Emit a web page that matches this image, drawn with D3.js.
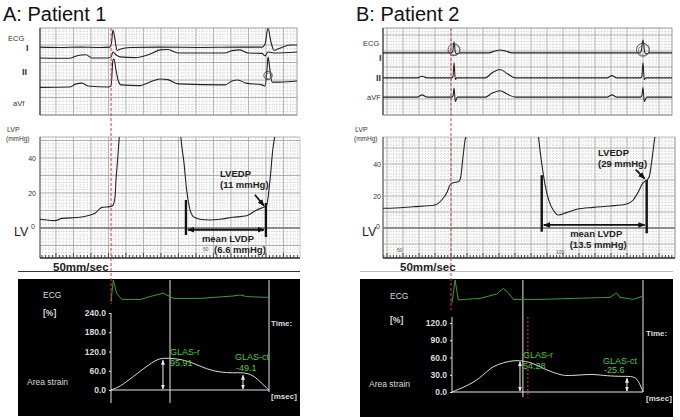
<!DOCTYPE html>
<html><head><meta charset="utf-8">
<script src="https://cdn.jsdelivr.net/npm/d3@7"></script>
<style>body{margin:0;background:#fff}svg{display:block}text{font-family:Arial,"Liberation Sans",sans-serif}</style>
</head><body><svg width="680" height="420"></svg>
<script>
// ================= DATA =================
const panelTitles = ["A: Patient 1", "B: Patient 2"];
const ecgLabelsA = ["ECG", "I", "II", "aVf"];
const ecgLabelsB = ["ECG", "I", "II", "aVF"];
// ECG leads: [time ms, mV relative to lead baseline]
const ecgA1 = [[0,0],[114,-0.01],[229,0],[343,-0.01],[400,0],[409,0.14],[417,0.49],[429,0.2],[440,-0.09],[457,-0.06],[514,-0.01],[686,0],[914,-0.01],[1143,0],[1269,0],[1286,0.09],[1303,0.54],[1320,0.14],[1337,-0.09],[1371,-0.03],[1429,0.06],[1469,0.06]];
const ecgA2 = [[0,0],[171,-0.01],[217,0.07],[263,0.09],[297,0],[389,0],[406,0.03],[417,0.17],[434,0.09],[457,0.03],[543,0.01],[629,0.11],[686,0.23],[731,0.24],[789,0.14],[1057,0.14],[1097,0.21],[1143,0.23],[1189,0.14],[1269,0.13],[1286,0.06],[1303,0.17],[1343,0.14],[1469,0.17]];
const ecgA3 = [[0,-0.01],[171,0],[206,0.09],[240,0.11],[274,0.03],[389,0],[406,0.03],[417,0.77],[423,0.8],[434,0.49],[446,0.2],[463,0.06],[571,0.04],[629,0.14],[686,0.23],[731,0.21],[789,0.09],[1057,0.06],[1097,0.17],[1131,0.2],[1177,0.11],[1269,0.06],[1286,0.03],[1297,0.49],[1303,0.86],[1314,0.49],[1326,0.14],[1371,0.14],[1469,0.17]];
const ecgB1 = [[0,0],[244,0],[425,0],[435,0.03],[444,0.34],[453,0],[465,-0.03],[480,0],[660,0],[700,0.06],[731,0.09],[765,0.06],[806,0],[1400,0],[1600,0],[1612,0.03],[1625,0.4],[1637,0],[1650,-0.03],[1665,0],[1806,0]];
const ecgB2 = [[0,0],[215,0],[244,0.05],[275,0],[430,0],[438,0.05],[444,0.47],[452,-0.05],[462,0],[640,0],[680,0.15],[731,0.26],[780,0.12],[825,0],[1400,0],[1431,0.07],[1460,0],[1610,0],[1618,0.05],[1625,0.47],[1633,-0.05],[1645,0],[1806,0]];
const ecgB3 = [[0,0],[215,0],[244,0.07],[275,0],[430,0],[438,0.05],[444,0.28],[452,-0.14],[465,0],[640,0],[680,0.12],[731,0.2],[780,0.08],[825,0],[1400,0],[1431,0.07],[1460,0],[1610,0],[1618,0.05],[1625,0.3],[1633,-0.14],[1648,0],[1806,0]];
// LV pressure: [time ms, mmHg]
const lvpA1 = [[0,5.0],[86,4.2],[126,5.5],[229,6.1],[286,7.4],[314,8.4],[354,11.8],[400,12.2],[417,13],[429,18],[434,27],[442,37],[453,52],[460,62]];
const lvpA2 = [[798,62],[804,53],[823,37],[838,21.7],[853,12.2],[876,6.5],[914,5.0],[971,4.6],[1029,5.0],[1103,6.1],[1181,7.0],[1238,10.3],[1276,11.8],[1295,13],[1314,27],[1330,44.6],[1343,54],[1350,62]];
const lvpB1 = [[0,12.3],[23,12.3],[189,13.3],[325,14.4],[367,17.5],[402,22.7],[419,26.9],[439,28.3],[471,28.9],[486,32],[498,42.5],[513,55],[523,59],[530,65]];
const lvpB2 = [[965,65],[971,58],[992,40.4],[1013,26.9],[1039,16.5],[1064,11.2],[1096,8.1],[1148,9.6],[1211,11.7],[1314,12.9],[1419,13.75],[1523,15],[1564,17.5],[1596,22.7],[1623,27.9],[1648,30],[1664,32],[1679,41.4],[1694,53],[1702,59],[1708,65]];
const lvpTicks = [0, 20, 40];
const lvedpText = ["(11 mmHg)", "(29 mmHg)"];
const meanLvdpText = ["(6.6 mmHg)", "(13.5 mmHg)"];
const diastoleA = [834, 1291];   // ms, bars
const diastoleB = [992, 1648];
const lvedpValues = [11, 29];
const qrsTimes = [406, 425];     // red dashed line (ms)
// Area strain: [time ms from QRS, %]
const strainA = [[0,0],[51,10],[127,42],[203,74],[260,95],[298,100],[355,98],[403,95],[469,84],[545,65],[621,55],[696,53],[753,55],[810,47],[858,21],[896,2],[900,0]];
const strainB = [[0,0],[132,15],[214,35],[255,45],[317,51],[379,55],[440,54.3],[502,50],[585,38],[667,30],[708,28],[811,30],[873,31],[956,28],[1058,27],[1120,27.5],[1151,21],[1180,0]];
const strainEcgA = [[0,-0.14],[13,0.95],[32,0.29],[61,-0.02],[170,-0.02],[222,0.12],[298,0.29],[336,0.12],[355,0.03],[507,0.03],[695,0.15],[735,0.2],[773,0.12],[887,0.08],[900,0.12]];
const strainEcgB = [[0,-0.21],[19,0.95],[39,-0.05],[70,-0.02],[173,0.03],[276,0.25],[317,0.53],[348,0.31],[379,-0.02],[544,-0.02],[749,0.03],[976,0.08],[1017,0.31],[1037,0.08],[1120,-0.02],[1180,0.15]];
const strainTicksA = [0, 60, 120, 180, 240];
const strainTicksB = [0, 30, 60, 90, 120];
const rrDurations = [900, 1180];
const avcTimes = [336, 438];
const glasNames = ["GLAS-r", "GLAS-ct"];
const glasA = [95.91, -49.1], glasB = [54.28, -25.6];
const glasTimeA = [296, 752], glasTimeB = [420, 1081];

// ================= LAYOUT =================
const panels = [
 { title: panelTitles[0], titleX: 3, labels: ecgLabelsA, leads: [ecgA1, ecgA2, ecgA3], base: [1.94, 1.63, 0.8],
   ecg: {x0:40, x1:297, y0:28, y1:115}, pxPerMs: 0.175, pxPerMv: 35, gridOff: 91,
   labPos: [[8,41,"s"],[26,51,"r"],[22,75,"r"],[13,106,"s"]],
   loops: [[1303, 0.33, 2, 4.2]],
   lvp: {x0:40, x1:300, y0:137, y1:258}, zeroY: 228, pxPerMmHg: 1.75, lvps: [lvpA1, lvpA2],
   lvpLabX: 7, tickX: 36, lvX: 14, zeroX: 31, speedX: 53, rulerLabels: [[203, 251, "50"]],
   diast: diastoleA, barTop: [16, 14.3], barBot: [-4, -5.1], arrowMm: -1, meanOff: [2, 14],
   edpText: [220, 177], edpArrowFrom: [-9, -11], idx: 0,
   sep: {x0:18, x1:300, c:"#333"},
   sb: {x0:18, x1:300, y0:279, y1:416}, ax0: 111, ax1: 269, yZero: 390, yTop: 313, axTop: 313, axBot: 403,
   ecgZero: 299, sLab: {x:43, ecgY:298, pctY:316, areaX:27, areaY:385}, tickLabX: 106,
   strain: strainA, sEcg: strainEcgA, sTicks: strainTicksA, glas: glasA, glasT: glasTimeA,
   glasLab: [[170, 355, 366], [235, 360, 371]], avcTop: 280, avcBot: 403, endBot: 392, timeX: 271,
   redBot: 304, extraRed: null },
 { title: panelTitles[1], titleX: 356, labels: ecgLabelsB, leads: [ecgB1, ecgB2, ecgB3], base: [1.94, 1.16, 0.56],
   ecg: {x0:383, x1:672, y0:28, y1:115}, pxPerMs: 0.16, pxPerMv: 32, gridOff: 25,
   labPos: [[363,46,"s"],[379,61,"r"],[376,81,"r"],[367,100,"s"]],
   loops: [[444, 0.1, 0, 6], [1625, 0.1, 0, 6.5]],
   lvp: {x0:383, x1:675, y0:137, y1:258}, zeroY: 228, pxPerMmHg: 1.6, lvps: [lvpB1, lvpB2],
   lvpLabX: 355, tickX: 381, lvX: 362, zeroX: 376, speedX: 400, rulerLabels: [[397, 252, "50"], [556, 254, "100"]],
   diast: diastoleB, barTop: [33, 30], barBot: [-2.3, -3.3], arrowMm: 1.9, meanOff: [2, 4],
   edpText: [598, 156], edpArrowFrom: [-9, -9], idx: 1,
   sep: {x0:360, x1:673, c:"#bbb"},
   sb: {x0:360, x1:673, y0:279, y1:417}, ax0: 452, ax1: 643, yZero: 392, yTop: 323, axTop: 317, axBot: 393,
   ecgZero: 299, sLab: {x:390, ecgY:299, pctY:323, areaX:369, areaY:387}, tickLabX: 446,
   strain: strainB, sEcg: strainEcgB, sTicks: strainTicksB, glas: glasB, glasT: glasTimeB,
   glasLab: [[523, 358, 369], [603, 364, 373]], avcTop: 280, avcBot: 397, endBot: 392, timeX: 646,
   redBot: 310, extraRed: 469 }
];

// ================= DRAW =================
const fmtLoc = d3.formatLocale({decimal: ".", thousands: ",", grouping: [3], currency: ["", ""], minus: "-"});
const svg = d3.select("svg");
const defs = svg.append("defs");
function mk(id, color, w) {
  defs.append("marker").attr("id", id).attr("viewBox", "0 0 10 10").attr("refX", 9).attr("refY", 5)
    .attr("markerWidth", w).attr("markerHeight", w).attr("orient", "auto-start-reverse")
    .attr("markerUnits", "userSpaceOnUse")
    .append("path").attr("d", "M0,1L10,5L0,9z").attr("fill", color);
}
mk("hk", "#111", 7); mk("hw", "#eee", 5);

function grid(g, xs, ys, xOff, xStep, yOff, yStep) {
  const [xa, xb] = xs.domain(), [ya, yb] = ys.domain();
  const xv = [], yv = [];
  for (let i = Math.ceil((xa - xOff) / xStep); xOff + i * xStep <= xb + 1e-9; i++) xv.push({v: xOff + i * xStep, m: i % 5 === 0});
  for (let i = Math.ceil((ya - yOff) / yStep); yOff + i * yStep <= yb + 1e-9; i++) yv.push({v: yOff + i * yStep, m: i % 5 === 0});
  const [r0, r1] = ys.range(), [c0, c1] = xs.range();
  const st = (sel) => sel.attr("stroke", d => d.m ? "#9c9c9c" : "#bdbdbd").attr("stroke-width", d => d.m ? 0.8 : 0.7)
    .attr("stroke-dasharray", d => d.m ? null : "1,1.6");
  st(g.append("g").selectAll("line").data(xv.filter(d => !d.m)).join("line")
    .attr("x1", d => xs(d.v)).attr("x2", d => xs(d.v)).attr("y1", r0).attr("y2", r1));
  st(g.append("g").selectAll("line").data(yv.filter(d => !d.m)).join("line")
    .attr("y1", d => ys(d.v)).attr("y2", d => ys(d.v)).attr("x1", c0).attr("x2", c1));
  st(g.append("g").selectAll("line").data(xv.filter(d => d.m)).join("line")
    .attr("x1", d => xs(d.v)).attr("x2", d => xs(d.v)).attr("y1", r0).attr("y2", r1));
  st(g.append("g").selectAll("line").data(yv.filter(d => d.m)).join("line")
    .attr("y1", d => ys(d.v)).attr("y2", d => ys(d.v)).attr("x1", c0).attr("x2", c1));
}

panels.forEach((P, pi) => {
  const g = svg.append("g");
  g.append("text").attr("x", P.titleX).attr("y", 21).attr("font-size", 20).attr("fill", "#111").text(P.title);

  // ---------- ECG strip ----------
  const ex = d3.scaleLinear().domain([0, (P.ecg.x1 - P.ecg.x0) / P.pxPerMs]).range([P.ecg.x0, P.ecg.x1]);
  const ey = d3.scaleLinear().domain([0, (P.ecg.y1 - P.ecg.y0) / P.pxPerMv]).range([P.ecg.y1, P.ecg.y0]);
  grid(g, ex, ey, P.gridOff, 20, 0, 0.1);
  g.append("rect").attr("x", P.ecg.x0).attr("y", P.ecg.y0).attr("width", P.ecg.x1 - P.ecg.x0).attr("height", P.ecg.y1 - P.ecg.y0)
    .attr("fill", "none").attr("stroke", "#888").attr("stroke-width", 0.8);
  g.append("line").attr("x1", P.ecg.x0).attr("x2", P.ecg.x0).attr("y1", P.ecg.y0).attr("y2", P.ecg.y1).attr("stroke", "#444").attr("stroke-width", 1.2);
  P.leads.forEach((ld, li) => {
    g.append("path").attr("d", d3.line().curve(d3.curveMonotoneX).x(d => ex(d[0])).y(d => ey(d[1] + P.base[li]))(ld))
      .attr("fill", "none").attr("stroke", "#222").attr("stroke-width", 1.1);
  });
  P.loops.forEach(l => {
    const cx = ex(l[0]), cy = ey(P.base[l[2]] + l[1]);
    g.append("circle").attr("cx", cx).attr("cy", cy).attr("r", l[3]).attr("fill", "none").attr("stroke", "#444").attr("stroke-width", 0.9);
    g.append("circle").attr("cx", cx + 0.8).attr("cy", cy + 0.5).attr("r", l[3] - 1.2).attr("fill", "none").attr("stroke", "#666").attr("stroke-width", 0.7);
  });
  P.labels.forEach((t, i) => {
    const p = P.labPos[i];
    g.append("text").attr("x", p[0]).attr("y", p[1]).text(t)
      .attr("font-size", p[2] === "r" ? 9 : 7.5).attr("font-weight", p[2] === "r" ? "bold" : "normal")
      .attr("font-family", p[2] === "r" ? "'Liberation Serif',serif" : null).attr("fill", "#333");
  });

  // ---------- LVP strip ----------
  const lx = d3.scaleLinear().domain([0, (P.lvp.x1 - P.lvp.x0) / P.pxPerMs]).range([P.lvp.x0, P.lvp.x1]);
  const ly = d3.scaleLinear().domain([-(P.lvp.y1 - P.zeroY) / P.pxPerMmHg, (P.zeroY - P.lvp.y0) / P.pxPerMmHg]).range([P.lvp.y1, P.lvp.y0]);
  grid(g, lx, ly, P.gridOff, 20, 0, 2);
  g.append("rect").attr("x", P.lvp.x0).attr("y", P.lvp.y0).attr("width", P.lvp.x1 - P.lvp.x0).attr("height", P.lvp.y1 - P.lvp.y0)
    .attr("fill", "none").attr("stroke", "#999").attr("stroke-width", 0.6);
  g.append("line").attr("x1", P.lvp.x0).attr("x2", P.lvp.x0).attr("y1", P.lvp.y0).attr("y2", P.lvp.y1).attr("stroke", "#555").attr("stroke-width", 1);
  g.append("line").attr("x1", P.lvp.x0).attr("x2", P.lvp.x1).attr("y1", ly(0)).attr("y2", ly(0)).attr("stroke", "#777").attr("stroke-width", 1.6);
  const rt = d3.range(Math.ceil(-P.gridOff / 20) * 20 + P.gridOff, lx.domain()[1], 20);
  g.append("line").attr("x1", P.lvp.x0).attr("x2", P.lvp.x1).attr("y1", P.lvp.y1).attr("y2", P.lvp.y1).attr("stroke", "#333").attr("stroke-width", 1.3);
  g.append("g").selectAll("line").data(rt).join("line").attr("x1", d => lx(d)).attr("x2", d => lx(d))
    .attr("y1", P.lvp.y1).attr("y2", d => P.lvp.y1 - (Math.round((d - P.gridOff) / 20) % 5 === 0 ? 5 : 3)).attr("stroke", "#333").attr("stroke-width", 0.9);
  P.rulerLabels.forEach(r => g.append("text").attr("x", r[0]).attr("y", r[1]).attr("font-size", 5).attr("fill", "#555").text(r[2]));
  const clipId = "clip" + pi;
  defs.append("clipPath").attr("id", clipId).append("rect").attr("x", P.lvp.x0).attr("y", P.lvp.y0).attr("width", P.lvp.x1 - P.lvp.x0).attr("height", P.lvp.y1 - P.lvp.y0);
  P.lvps.forEach(seg => g.append("path").attr("clip-path", `url(#${clipId})`)
    .attr("d", d3.line().curve(d3.curveMonotoneX).x(d => lx(d[0])).y(d => ly(d[1]))(seg))
    .attr("fill", "none").attr("stroke", "#222").attr("stroke-width", 1.1));
  g.append("text").attr("x", P.lvpLabX).attr("y", 132).attr("font-size", 7).attr("fill", "#333").text("LVP");
  g.append("text").attr("x", P.lvpLabX - 1).attr("y", 141).attr("font-size", 6.5).attr("fill", "#333").text("(mmHg)");
  lvpTicks.filter(v => v > 0).forEach(v => g.append("text").attr("x", P.tickX).attr("y", ly(v) + 2.5).attr("text-anchor", "end")
    .attr("font-size", 7).attr("fill", "#333").text(v));
  g.append("text").attr("x", P.lvX).attr("y", ly(0) + 8).attr("font-size", 12.5).attr("fill", "#222").text("LV");
  g.append("text").attr("x", P.zeroX).attr("y", ly(0) + 1).attr("font-size", 7).attr("fill", "#333").text("0");
  P.diast.forEach((t, i) => g.append("line").attr("x1", lx(t)).attr("x2", lx(t)).attr("y1", ly(P.barTop[i])).attr("y2", ly(P.barBot[i]))
    .attr("stroke", "#111").attr("stroke-width", 2.4));
  g.append("line").attr("x1", lx(P.diast[0]) + 2).attr("x2", lx(P.diast[1]) - 2).attr("y1", ly(P.arrowMm)).attr("y2", ly(P.arrowMm))
    .attr("stroke", "#111").attr("stroke-width", 1.8).attr("marker-start", "url(#hk)").attr("marker-end", "url(#hk)");
  const mid = (lx(P.diast[0]) + lx(P.diast[1])) / 2;
  g.append("text").attr("x", mid + P.meanOff[0]).attr("y", ly(P.arrowMm) + 12).attr("text-anchor", "middle").attr("font-size", 9.5).attr("font-weight", "bold").attr("fill", "#222").text("mean LVDP");
  g.append("text").attr("x", mid + P.meanOff[1]).attr("y", ly(P.arrowMm) + 23).attr("text-anchor", "middle").attr("font-size", 9.5).attr("font-weight", "bold").attr("fill", "#222").text(meanLvdpText[P.idx]);
  g.append("text").attr("x", P.edpText[0]).attr("y", P.edpText[1]).attr("font-size", 9.5).attr("font-weight", "bold").attr("fill", "#222").text("LVEDP");
  g.append("text").attr("x", P.edpText[0]).attr("y", P.edpText[1] + 11).attr("font-size", 9.5).attr("font-weight", "bold").attr("fill", "#222").text(lvedpText[P.idx]);
  const ax = lx(P.diast[1]) - 2, ay = ly(lvedpValues[P.idx]) - 3;
  g.append("line").attr("x1", ax + P.edpArrowFrom[0]).attr("y1", ay + P.edpArrowFrom[1]).attr("x2", ax).attr("y2", ay)
    .attr("stroke", "#111").attr("stroke-width", 1.8).attr("marker-end", "url(#hk)");
  g.append("text").attr("x", P.speedX).attr("y", 271).attr("font-size", 11.5).attr("font-weight", "bold").attr("fill", "#222").text("50mm/sec");
  g.append("line").attr("x1", P.sep.x0).attr("x2", P.sep.x1).attr("y1", 271.5).attr("y2", 271.5).attr("stroke", P.sep.c).attr("stroke-width", 1);

  // ---------- Strain box ----------
  g.append("rect").attr("x", P.sb.x0).attr("y", P.sb.y0).attr("width", P.sb.x1 - P.sb.x0).attr("height", P.sb.y1 - P.sb.y0).attr("fill", "#000");
  const sx = d3.scaleLinear().domain([0, rrDurations[P.idx]]).range([P.ax0, P.ax1]);
  const sy = d3.scaleLinear().domain([0, P.sTicks[P.sTicks.length - 1]]).range([P.yZero, P.yTop]);
  const gy = d3.scaleLinear().domain([0, 1]).range([P.ecgZero, P.ecgZero - 20]);
  const white = "#e6e6e6";
  g.append("line").attr("x1", sx(avcTimes[P.idx])).attr("x2", sx(avcTimes[P.idx])).attr("y1", P.avcTop).attr("y2", P.avcBot).attr("stroke", white).attr("stroke-width", 1);
  g.append("line").attr("x1", sx(rrDurations[P.idx])).attr("x2", sx(rrDurations[P.idx])).attr("y1", P.avcTop).attr("y2", P.endBot).attr("stroke", white).attr("stroke-width", 1);
  g.append("line").attr("x1", P.ax0).attr("x2", P.ax0).attr("y1", P.axTop).attr("y2", P.axBot).attr("stroke", white).attr("stroke-width", 1);
  g.append("line").attr("x1", P.ax0).attr("x2", P.ax1).attr("y1", sy(0)).attr("y2", sy(0)).attr("stroke", white).attr("stroke-width", 1);
  const yAx = g.append("g").attr("transform", `translate(${P.ax0},0)`)
    .call(d3.axisLeft(sy).tickValues(P.sTicks).tickFormat(d3.format(".1f")).tickSize(2).tickPadding(3));
  yAx.select(".domain").remove();
  yAx.selectAll("line").attr("stroke", white);
  yAx.selectAll("text").attr("fill", "#ddd").attr("font-size", 8.5).attr("font-weight", "bold")
    .attr("font-family", "'Liberation Sans Narrow','Arial Narrow',sans-serif");
  g.append("path").attr("d", d3.line().x(d => sx(d[0])).y(d => gy(d[1]))(P.sEcg)).attr("fill", "none").attr("stroke", "#3c9c3c").attr("stroke-width", 1);
  g.append("path").attr("d", d3.line().curve(d3.curveBasis).x(d => sx(d[0])).y(d => sy(d[1]))(P.strain)).attr("fill", "none").attr("stroke", "#ddd").attr("stroke-width", 1);
  P.glas.forEach((v, i) => {
    g.append("line").attr("x1", sx(P.glasT[i])).attr("x2", sx(P.glasT[i])).attr("y1", sy(0) - 1).attr("y2", sy(Math.abs(v)) + 1)
      .attr("stroke", "#eee").attr("stroke-width", 1).attr("marker-start", "url(#hw)").attr("marker-end", "url(#hw)");
    const lp = P.glasLab[i];
    g.append("text").attr("x", lp[0]).attr("y", lp[1]).attr("font-size", 9).attr("fill", "#4ccf3c").text(glasNames[i]);
    g.append("text").attr("x", lp[0] + (i ? 1 : 0)).attr("y", lp[2]).attr("font-size", 9).attr("fill", "#4ccf3c").text(fmtLoc.format(i ? ".1f" : ".2f")(v));
  });
  const lab = (x, y, t, fs) => g.append("text").attr("x", x).attr("y", y).attr("font-size", fs).attr("fill", "#ddd").text(t);
  lab(P.sLab.x, P.sLab.ecgY, "ECG", 8.5);
  lab(P.sLab.x, P.sLab.pctY, "[%]", 8.5).attr("font-weight", "bold").attr("font-family", "'Liberation Sans Narrow',sans-serif");
  lab(P.sLab.areaX, P.sLab.areaY, "Area strain", 8.5);
  lab(P.timeX, P.yTop + 13, "Time:", 8).attr("font-weight", "bold").attr("font-family", "'Liberation Sans Narrow',sans-serif");
  lab(P.timeX, P.yZero + 9, "[msec]", 8).attr("font-weight", "bold").attr("font-family", "'Liberation Sans Narrow',sans-serif");

  g.append("line").attr("x1", ex(qrsTimes[P.idx])).attr("x2", ex(qrsTimes[P.idx])).attr("y1", P.ecg.y0).attr("y2", P.redBot)
    .attr("stroke", "#e03a3a").attr("stroke-width", 1).attr("stroke-dasharray", "3,2");
  if (P.extraRed !== null) {
    g.append("line").attr("x1", sx(P.extraRed)).attr("x2", sx(P.extraRed)).attr("y1", 317).attr("y2", 398)
      .attr("stroke", "#e03a3a").attr("stroke-width", 1).attr("stroke-dasharray", "2,2");
  }
});
</script></body></html>
